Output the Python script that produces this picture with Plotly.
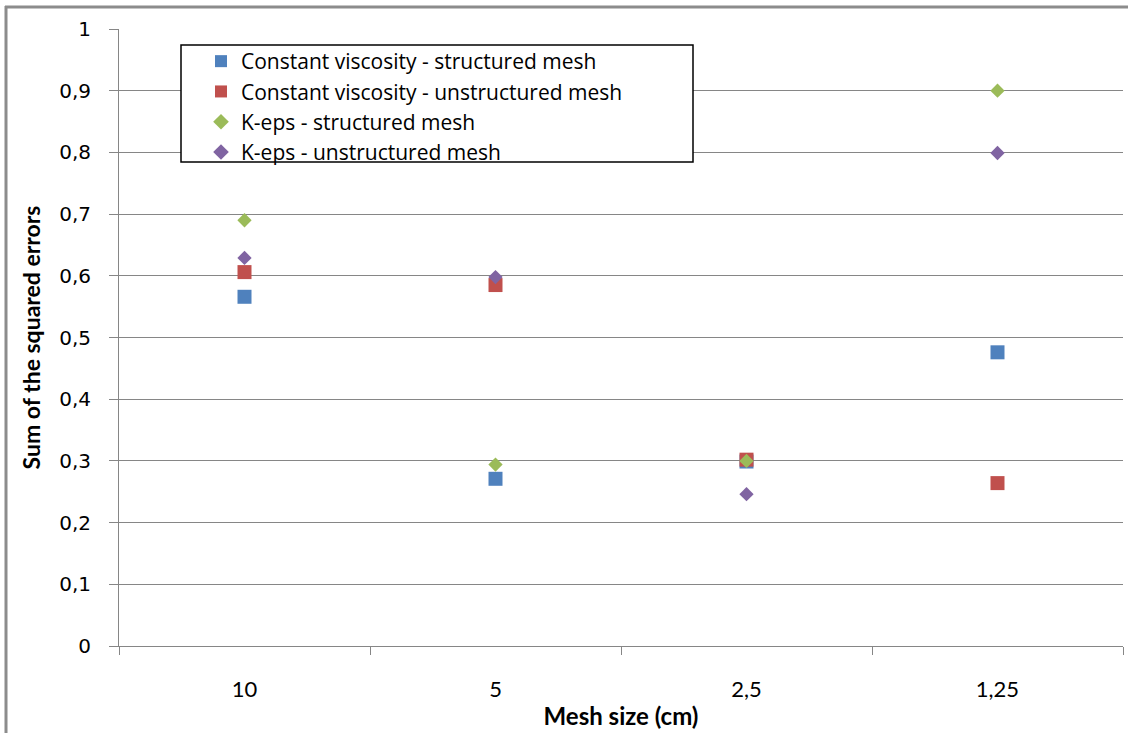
import plotly.graph_objects as go

# Mesh sizes (cm) shown as categories on the x axis
mesh_sizes = ["10", "5", "2,5", "1,25"]

# Sum of the squared errors for each model / mesh type
const_visc_structured = [0.566, 0.271, 0.299, 0.476]
const_visc_unstructured = [0.606, 0.585, 0.302, 0.264]
keps_structured = [0.690, 0.294, 0.300, 0.900]
keps_unstructured = [0.629, 0.598, 0.246, 0.799]

series_names = [
    "Constant viscosity - structured mesh",
    "Constant viscosity - unstructured mesh",
    "K-eps - structured mesh",
    "K-eps - unstructured mesh",
]

y_tick_vals = [0, 0.1, 0.2, 0.3, 0.4, 0.5, 0.6, 0.7, 0.8, 0.9, 1]

GRID = "#868686"
TEXT_FONT = "Lato, 'Liberation Sans', sans-serif"
LEGEND_FONT = "'Open Sans', 'Noto Sans', sans-serif"

fig = go.Figure()

styles = [
    dict(symbol="square", size=14, color="#4F81BD"),
    dict(symbol="square", size=14, color="#C0504D"),
    dict(symbol="diamond", size=11, color="#9BBB59"),
    dict(symbol="diamond", size=11, color="#8064A2"),
]
values = [const_visc_structured, const_visc_unstructured, keps_structured, keps_unstructured]

for name, vals, st in zip(series_names, values, styles):
    fig.add_trace(go.Scatter(
        x=mesh_sizes, y=vals, mode="markers", name=name,
        marker=dict(symbol=st["symbol"], size=st["size"], color=st["color"],
                    line=dict(width=0)),
        cliponaxis=False,
    ))

# plot area: x 119..1123 px, y 29..646 px
L, R, T, B = 119, 5, 29, 87
W, H = 1128, 733
pw, ph = W - L - R, H - T - B


def px_x(x):
    return (x - L) / pw


def px_y(y):
    return (H - B - y) / ph


shapes = [
    # outer chart frame (left and top edges)
    dict(type="line", xref="paper", yref="paper", x0=px_x(6), x1=px_x(6),
         y0=px_y(6), y1=px_y(740), line=dict(color="#8c8c8c", width=3)),
    dict(type="line", xref="paper", yref="paper", x0=px_x(5), x1=px_x(1135),
         y0=px_y(7), y1=px_y(7), line=dict(color="#8c8c8c", width=3)),
    # legend frame
    dict(type="rect", xref="paper", yref="paper", x0=px_x(181), x1=px_x(693),
         y0=px_y(45), y1=px_y(162), line=dict(color="black", width=1.5),
         fillcolor="white", layer="above"),
]

fig.update_layout(
    width=W, height=H,
    margin=dict(l=L, r=R, t=T, b=B, pad=0),
    paper_bgcolor="white", plot_bgcolor="white",
    separators=", ",
    showlegend=True,
    legend=dict(
        x=px_x(201), y=px_y(41), xanchor="left", yanchor="top",
        bgcolor="rgba(0,0,0,0)", borderwidth=0,
        font=dict(family=LEGEND_FONT, size=21, color="black"),
        tracegroupgap=0, itemsizing="constant",
    ),
    shapes=shapes,
    xaxis=dict(
        type="category", range=[-0.5, 3.5],
        showline=True, linecolor=GRID, linewidth=1,
        ticks="outside", tickson="boundaries", ticklen=8, tickcolor=GRID,
        showgrid=False, zeroline=False,
        tickfont=dict(family=TEXT_FONT, size=22, color="black"),
        ticklabelstandoff=24,
        title=dict(text="<b>Mesh size (cm)</b>", standoff=6,
                   font=dict(family=TEXT_FONT, size=24, color="black")),
    ),
    yaxis=dict(
        range=[0, 1], tickvals=y_tick_vals,
        showline=True, linecolor=GRID, linewidth=1,
        ticks="outside", ticklen=9, tickcolor=GRID,
        showgrid=True, gridcolor=GRID, gridwidth=1, zeroline=False,
        tickfont=dict(family="'DejaVu Sans', Verdana, sans-serif", size=20, color="black"),
        ticklabelstandoff=14,
        title=dict(text="<b>Sum of the squared errors</b>", standoff=12,
                   font=dict(family=TEXT_FONT, size=23, color="black")),
    ),
)

fig.write_html("out.html")
